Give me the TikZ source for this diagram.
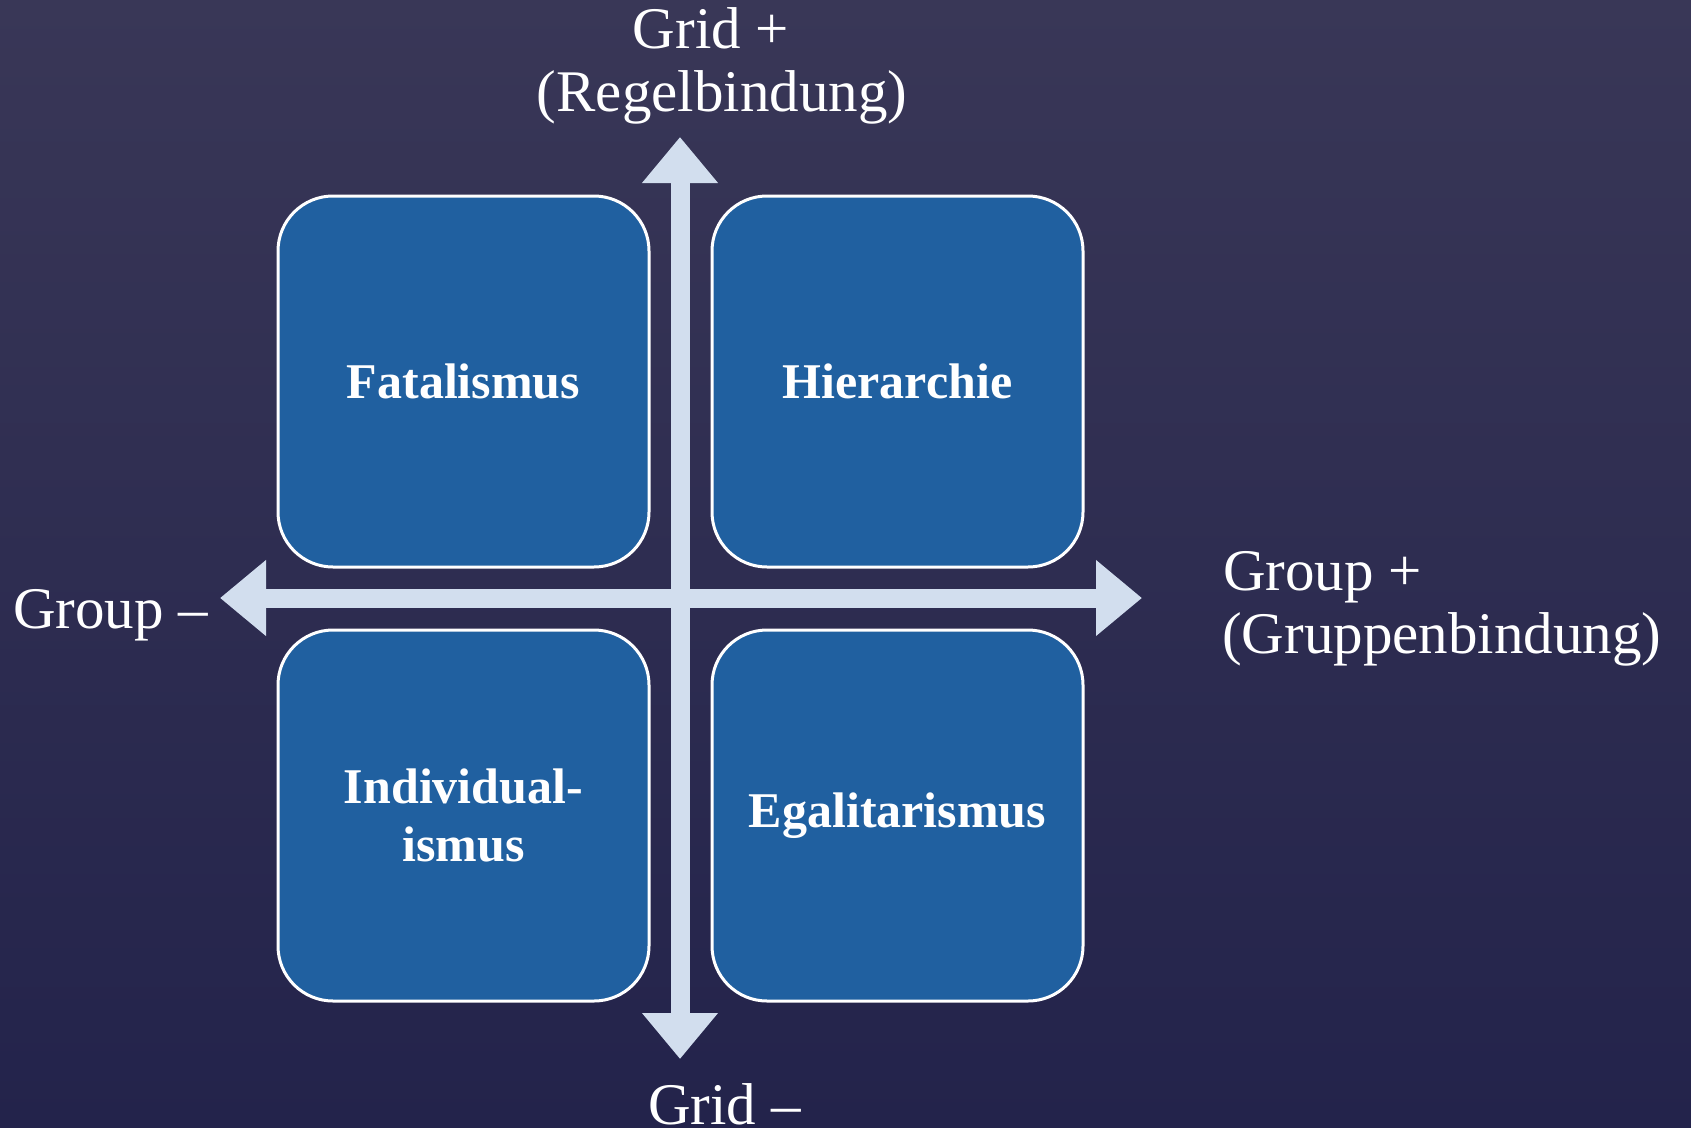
\documentclass[tikz,border=0pt]{standalone}
\usepackage{fontspec}
\setmainfont{Liberation Serif}
\usetikzlibrary{arrows.meta}
\definecolor{bgtop}{HTML}{393757}
\definecolor{bgbot}{HTML}{23234B}
\definecolor{boxblue}{HTML}{2060A0}
\definecolor{axiscol}{HTML}{D2DEEE}
\tikzset{
  quad/.style={draw=white, line width=3pt, fill=boxblue, rounded corners=55pt,
    minimum width=371pt, minimum height=371pt, inner sep=0pt, text=white,
    align=center, font=\fontsize{50}{58}\selectfont\bfseries},
  axislabel/.style={text=white, inner sep=0pt, font=\fontsize{59}{63}\selectfont},
  axisarrow/.style={draw=axiscol, line width=19pt,
    {Triangle[width=73pt,length=46pt]}-{Triangle[width=73pt,length=46pt]}}
}
\begin{document}
\begin{tikzpicture}[x=1pt,y=-1pt]
\useasboundingbox (0,0) rectangle (1691,1127);
\shade[top color=bgtop, bottom color=bgbot] (0,0) rectangle (1691,1127);
% axes
\coordinate (vtop) at (680,137);
\coordinate (vbot) at (680,1059);
\coordinate (hleft) at (220,598);
\coordinate (hright) at (1142,598);
\draw[axisarrow] (vtop) -- (vbot);
\draw[axisarrow] (hleft) -- (hright);
% quadrants
\node[quad] (fat) at (463.5,381.5) {Fatalismus};
\node[quad] (hier) at (897.5,381.5) {Hierarchie};
\node[quad] (ind) at (463.5,815.5) {Individual-\\ismus};
\node[quad] (ega) at (897.5,815.5) {Egalitarismus};
% axis labels
\node[axislabel, anchor=base] (gridp1) at (711,48) {Grid +};
\node[axislabel, anchor=base] (gridp2) at (722,111) {(Regelbindung)};
\node[axislabel, anchor=base west] (groupm) at (13,628) {Group –};
\node[axislabel, anchor=base west] (groupp1) at (1223,590) {Group +};
\node[axislabel, anchor=base west] (groupp2) at (1222,653) {(Gruppenbindung)};
\node[axislabel, anchor=base west] (gridm) at (648,1124) {Grid –};
\end{tikzpicture}
\end{document}
